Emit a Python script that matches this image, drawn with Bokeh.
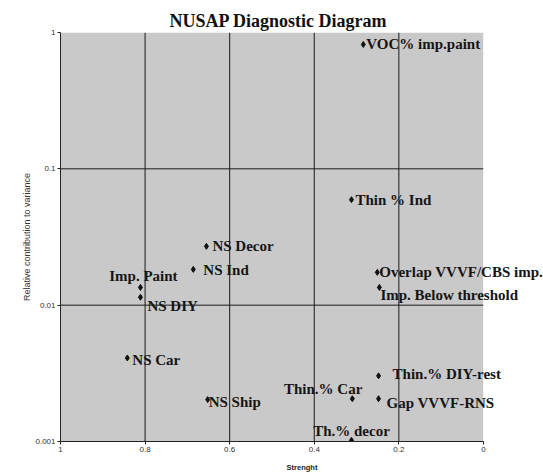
from bokeh.plotting import figure
from bokeh.models import (Range1d, FixedTicker, CustomJSTickFormatter, LabelSet,
                          ColumnDataSource)
from bokeh.embed import file_html
from bokeh.resources import INLINE

# ---- data ----
names = ["VOC% imp.paint", "Thin % Ind", "Overlap VVVF/CBS imp.",
         "Imp. Below threshold", "Thin.% DIY-rest", "Gap VVVF-RNS",
         "Thin.% Car", "Th.% decor", "NS Decor", "NS Ind", "Imp. Paint",
         "NS DIY", "NS Car", "NS Ship"]
strength = [0.284, 0.312, 0.251, 0.246, 0.248, 0.248, 0.310, 0.312,
            0.655, 0.686, 0.811, 0.811, 0.842, 0.652]
variance = [0.817, 0.0594, 0.0174, 0.0135, 0.00303, 0.00206, 0.00206,
            0.00102, 0.0270, 0.0183, 0.0135, 0.01143, 0.0041, 0.00203]
x_ticks = [0, 0.2, 0.4, 0.6, 0.8, 1]
y_ticks = [0.001, 0.01, 0.1, 1]
x_grid = [0.2, 0.4, 0.6, 0.8]
y_grid = [0.01, 0.1]

# label placement (styling, in screen pixels)
lab_align = ["left", "left", "left", "left", "left", "left", "right", "center",
             "left", "left", "center", "left", "left", "left"]
lab_dx = [3, 4, 2, 1, 14, 8, 10, 0, 6, 10, 3, 7, 5, 1]
lab_dy = [0, 0, 0, -8, 2, -4, 10, 9, 0, -1, 11, -9, -2, -2]

src = ColumnDataSource(dict(x=strength, y=variance, name=names,
                            align=lab_align, dx=lab_dx, dy=lab_dy))

x_lo, x_hi = float(min(x_ticks)), float(max(x_ticks))
y_lo, y_hi = min(y_ticks), max(y_ticks)
x_room = x_lo - 0.142   # extra room right of x=0 for the point labels

p = figure(width=543, height=474, x_range=Range1d(x_hi, x_room),
           y_range=Range1d(y_lo, y_hi), y_axis_type="log",
           output_backend="svg", toolbar_location=None,
           min_border_left=60, min_border_right=0, min_border_top=32,
           min_border_bottom=31,
           title="NUSAP Diagnostic Diagram")

p.title.align = "left"
p.title.offset = 109
p.title.text_font = "Liberation Serif"
p.title.text_font_size = "18px"
p.title.text_font_style = "bold"
p.title.text_color = "#111111"
p.title.standoff = 4

p.background_fill_color = "#ffffff"
p.border_fill_color = "#ffffff"
p.outline_line_color = None

# shaded plot area, from x = 1 to x = 0 only
p.varea(x=[x_hi, x_lo], y1=[y_lo, y_lo], y2=[y_hi, y_hi],
        fill_color="#c9c9c9")

# axes
p.xaxis.ticker = FixedTicker(ticks=x_ticks)
p.yaxis.ticker = FixedTicker(ticks=y_ticks)
p.xaxis.bounds = (x_lo, x_hi)
fmt = "return tick.toString();"
p.xaxis.formatter = CustomJSTickFormatter(code=fmt)
p.yaxis.formatter = CustomJSTickFormatter(code=fmt)
for ax in (p.xaxis[0], p.yaxis[0]):
    ax.axis_line_color = "#222222"
    ax.major_tick_line_color = "#222222"
    ax.major_tick_out = 3
    ax.major_tick_in = 0
    ax.minor_tick_line_color = None
    ax.major_label_text_font = "Liberation Sans"
    ax.major_label_text_font_size = "8px"
    ax.major_label_text_color = "#333333"
    ax.major_label_standoff = 2
p.xaxis.axis_label = "Strenght"
p.xaxis.axis_label_text_font = "Liberation Sans"
p.xaxis.axis_label_text_font_size = "7.5px"
p.xaxis.axis_label_text_font_style = "bold"
p.xaxis.axis_label_text_color = "#222222"
p.xaxis.axis_label_standoff = 8
p.yaxis.axis_label = "Relative contribution to variance"
p.yaxis.axis_label_text_font = "Liberation Sans"
p.yaxis.axis_label_text_font_size = "9px"
p.yaxis.axis_label_text_font_style = "normal"
p.yaxis.axis_label_text_color = "#333333"
p.yaxis.axis_label_standoff = 0

# grid lines, limited to the shaded area
p.xgrid.grid_line_color = None
p.ygrid.grid_line_color = None
for g in x_grid:
    p.line(x=[g, g], y=[y_lo, y_hi], line_color="#1a1a1a", line_width=1)
for g in y_grid:
    p.line(x=[x_hi, x_lo], y=[g, g], line_color="#1a1a1a", line_width=1)

# keep the strip right of x=0 plain white (only labels run into it)
p.varea(x=[x_lo, x_room], y1=[y_lo, y_lo], y2=[y_hi, y_hi],
        fill_color="#ffffff")

# points
p.scatter("x", "y", source=src, marker="diamond", size=6,
          fill_color="#111111", line_color="#111111")

labels = LabelSet(x="x", y="y", text="name", source=src,
                  x_offset="dx", y_offset="dy", text_align="align",
                  text_baseline="middle", text_font="Liberation Serif",
                  text_font_size="15px", text_font_style="bold",
                  text_color="#151515")
p.add_layout(labels)

open("out.html", "w").write(file_html(p, INLINE))
